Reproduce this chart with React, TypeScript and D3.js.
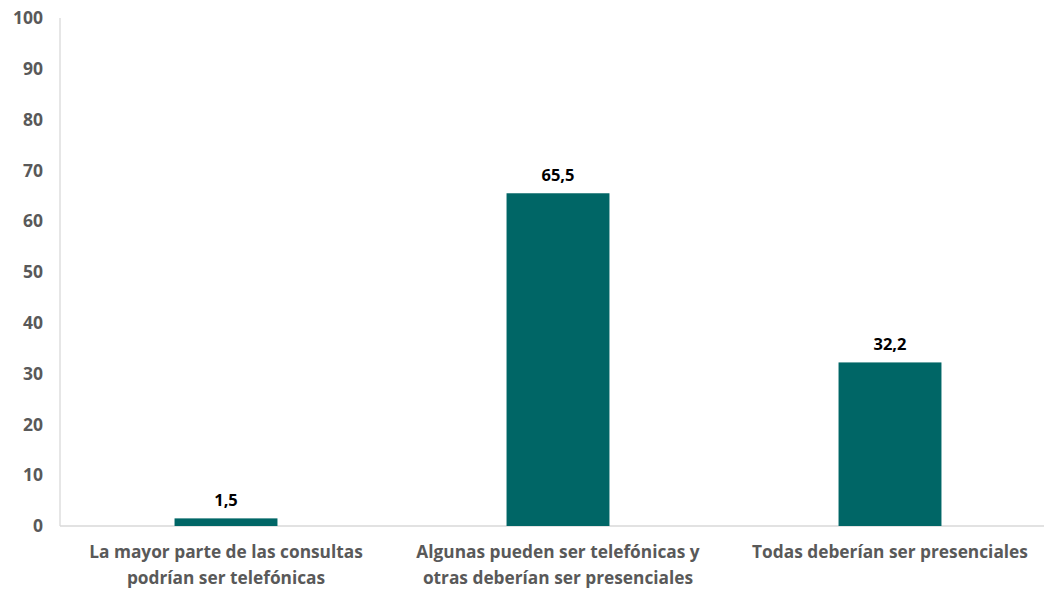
import React from "react";
import * as d3 from "d3";

const categories = [
  ["La mayor parte de las consultas", "podrían ser telefónicas"],
  ["Algunas pueden ser telefónicas y", "otras deberían ser presenciales"],
  ["Todas deberían ser presenciales"],
];
const values = [1.5, 65.5, 32.2];
const valueLabels = ["1,5", "65,5", "32,2"];
const yTicks = [0, 10, 20, 30, 40, 50, 60, 70, 80, 90, 100];

const W = 1044;
const H = 589;
const left = 60;
const right = 1056;
const top = 18;
const bottom = 526;
const font = "'Open Sans', 'Noto Sans', sans-serif";

export default function App() {
  const x = d3
    .scaleBand<number>()
    .domain(values.map((_, i) => i))
    .range([left, right])
    .paddingInner(0.69)
    .paddingOuter(0.345);
  const y = d3.scaleLinear().domain([0, 100]).range([bottom, top]);

  return (
    <svg
      width={W}
      height={H}
      style={{ position: "absolute", left: 0, top: 0, background: "#fff" }}
      fontFamily={font}
    >
      <line x1={left} x2={left} y1={top} y2={bottom} stroke="#d9d9d9" strokeWidth={1.3} />
      <line x1={left} x2={right} y1={bottom} y2={bottom} stroke="#d9d9d9" strokeWidth={1.3} />
      {yTicks.map((t) => (
        <text
          key={t}
          x={43}
          y={y(t)}
          dy="0.35em"
          textAnchor="end"
          fontSize={17.5}
          fontWeight={700}
          fill="#595959"
        >
          {t}
        </text>
      ))}
      {values.map((v, i) => (
        <g key={i}>
          <rect
            x={x(i)!}
            y={y(v)}
            width={x.bandwidth()}
            height={y(0) - y(v)}
            fill="#006666"
          />
          <text
            x={x(i)! + x.bandwidth() / 2}
            y={y(v) - 12}
            textAnchor="middle"
            fontSize={16.5}
            fontWeight={700}
            fill="#000"
          >
            {valueLabels[i]}
          </text>
        </g>
      ))}
      {categories.map((lines, i) => {
        const cx = x(i)! + x.bandwidth() / 2;
        return (
          <text
            key={i}
            x={cx}
            textAnchor="middle"
            fontSize={17.3}
            fontWeight={700}
            fill="#595959"
          >
            {lines.map((l, j) => (
              <tspan key={j} x={cx} y={558 + j * 26}>
                {l}
              </tspan>
            ))}
          </text>
        );
      })}
    </svg>
  );
}
